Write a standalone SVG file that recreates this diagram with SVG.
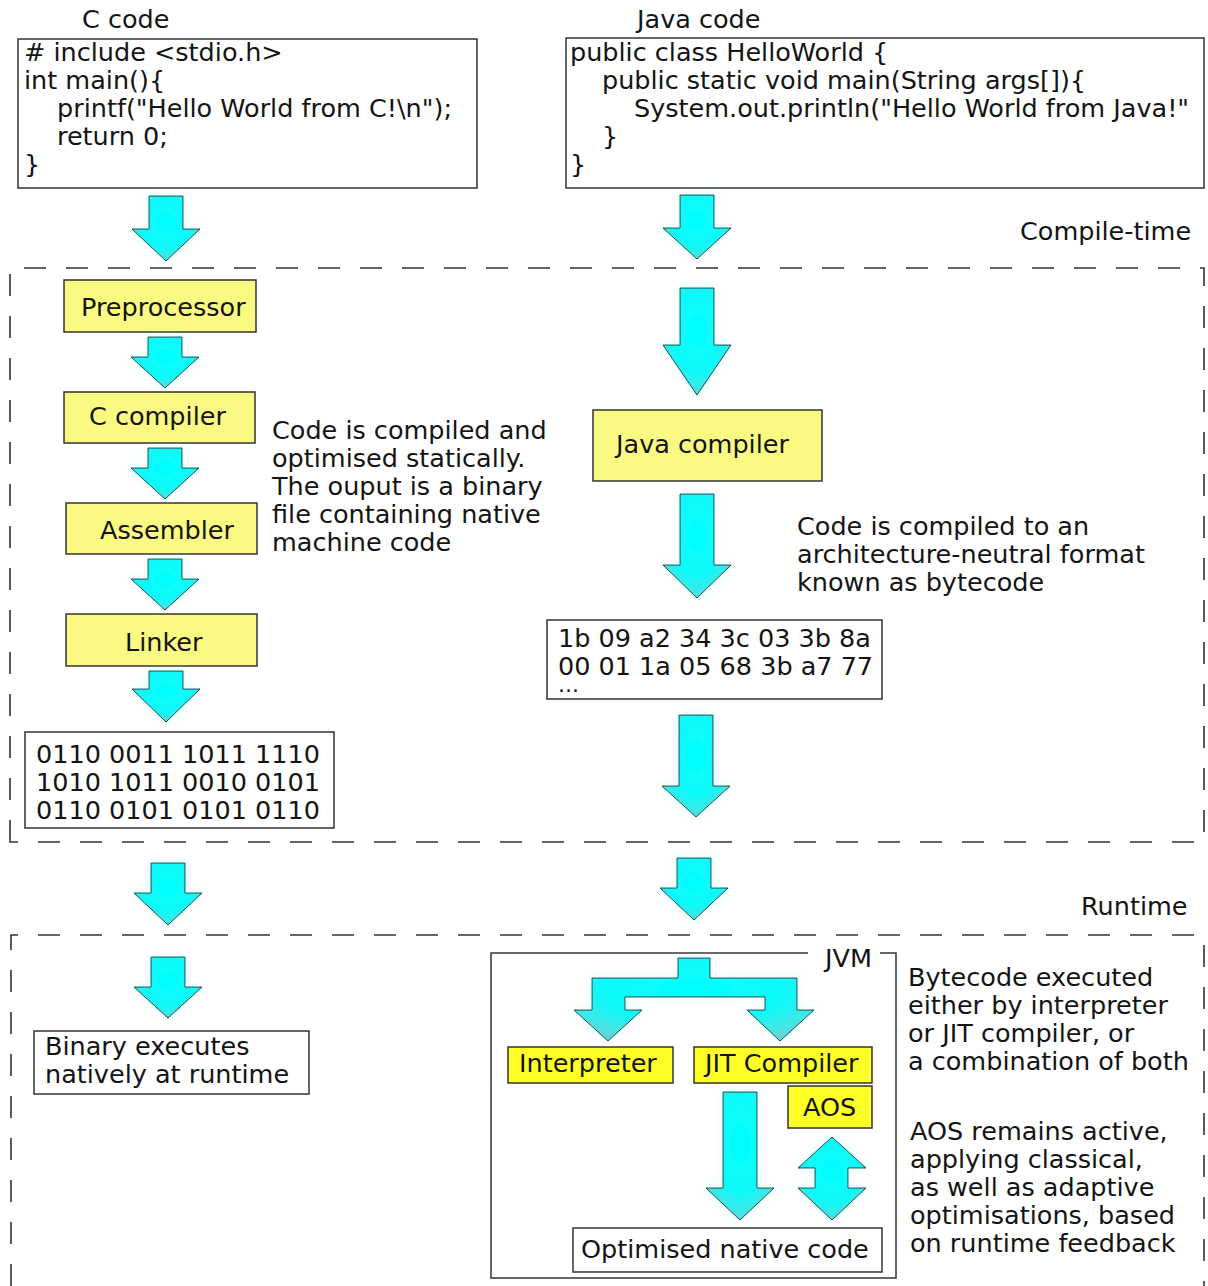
<svg xmlns="http://www.w3.org/2000/svg" width="1208" height="1286" viewBox="0 0 1208 1286">
  <style>
    .t { font-family: "DejaVu Sans", "Liberation Sans", sans-serif; font-size: 25.5px; fill: #141414; }
    .dots { font-family: "DejaVu Sans", "Liberation Sans", sans-serif; font-size: 22px; fill: #141414; }
    .box { fill: #ffffff; stroke: #333333; stroke-width: 1.5; }
    .pale { fill: #fafa82; stroke: #333333; stroke-width: 1.5; }
    .bright { fill: #ffff28; stroke: #333333; stroke-width: 1.5; }
    .dash { fill: none; stroke: #333333; stroke-width: 1.6; stroke-dasharray: 22 20; }
    .frame { fill: none; stroke: #333333; stroke-width: 1.5; }
    .arrow { fill: url(#cyan); stroke: #2a3a3a; stroke-width: 1; filter: url(#glow); }
  </style>
  <defs>
    <radialGradient id="cyan" cx="0.5" cy="0.4" r="0.65">
      <stop offset="0" stop-color="#00ffff"/>
      <stop offset="0.6" stop-color="#10f8f8"/>
      <stop offset="1" stop-color="#60dada"/>
    </radialGradient>
    <filter id="glow" x="-30%" y="-30%" width="160%" height="160%">
      <feGaussianBlur in="SourceAlpha" stdDeviation="3" result="b"/>
      <feFlood flood-color="#9ffcfc" flood-opacity="0.6"/>
      <feComposite in2="b" operator="in" result="g"/>
      <feMerge>
        <feMergeNode in="g"/>
        <feMergeNode in="SourceGraphic"/>
      </feMerge>
    </filter>
  </defs>

  <rect width="1208" height="1286" fill="#ffffff"/>

  <!-- stage frames -->
  <g id="stages">
    <path class="dash" d="M10,842 V268 H1204 V842 Z"/>
    <text class="t" x="1020" y="240">Compile-time</text>
    <path class="dash" d="M11,1286 V935 H1204 V1286"/>
    <text class="t" x="1081" y="915">Runtime</text>
  </g>

  <!-- C source -->
  <g id="c-source">
    <text class="t" x="82" y="28">C code</text>
    <rect class="box" x="18" y="39" width="459" height="149"/>
    <text class="t" x="24" y="61"># include &lt;stdio.h&gt;</text>
    <text class="t" x="24" y="89">int main(){</text>
    <text class="t" x="57" y="117">printf("Hello World from C!\n");</text>
    <text class="t" x="57" y="145">return 0;</text>
    <text class="t" x="24" y="173">}</text>
  </g>

  <!-- Java source -->
  <g id="java-source">
    <text class="t" x="637" y="28">Java code</text>
    <rect class="box" x="566" y="38" width="638" height="150"/>
    <text class="t" x="570" y="61">public class HelloWorld {</text>
    <text class="t" x="602" y="89">public static void main(String args[]){</text>
    <text class="t" x="634" y="117">System.out.println("Hello World from Java!"</text>
    <text class="t" x="602" y="145">}</text>
    <text class="t" x="570" y="173">}</text>
  </g>

  <g id="preprocessor">
    <rect class="pale" x="64" y="280" width="192" height="52"/>
    <text class="t" x="81" y="316">Preprocessor</text>
  </g>
  <g id="c-compiler">
    <rect class="pale" x="64" y="392" width="191" height="51"/>
    <text class="t" x="89" y="425">C compiler</text>
  </g>
  <g id="assembler">
    <rect class="pale" x="66" y="503" width="191" height="51"/>
    <text class="t" x="100" y="539">Assembler</text>
  </g>
  <g id="linker">
    <rect class="pale" x="66" y="614" width="191" height="52"/>
    <text class="t" x="125" y="651">Linker</text>
  </g>
  <g id="binary">
    <rect class="box" x="25" y="732" width="309" height="96"/>
    <text class="t" x="36" y="763">0110 0011 1011 1110</text>
    <text class="t" x="36" y="791">1010 1011 0010 0101</text>
    <text class="t" x="36" y="819">0110 0101 0101 0110</text>
  </g>
  <g id="c-note">
    <text class="t" x="272" y="439">Code is compiled and</text>
    <text class="t" x="272" y="467">optimised statically.</text>
    <text class="t" x="272" y="495">The ouput is a binary</text>
    <text class="t" x="272" y="523">file containing native</text>
    <text class="t" x="272" y="551">machine code</text>
  </g>

  <g id="java-compiler">
    <rect class="pale" x="593" y="410" width="229" height="71"/>
    <text class="t" x="616" y="453">Java compiler</text>
  </g>
  <g id="java-note">
    <text class="t" x="797" y="535">Code is compiled to an</text>
    <text class="t" x="797" y="563">architecture-neutral format</text>
    <text class="t" x="797" y="591">known as bytecode</text>
  </g>
  <g id="bytecode">
    <rect class="box" x="547" y="620" width="335" height="79"/>
    <text class="t" x="558" y="647">1b 09 a2 34 3c 03 3b 8a</text>
    <text class="t" x="558" y="675">00 01 1a 05 68 3b a7 77</text>
    <text class="dots" x="558" y="692">...</text>
  </g>

  <g id="binary-run">
    <rect class="box" x="34" y="1031" width="275" height="63"/>
    <text class="t" x="45" y="1055">Binary executes</text>
    <text class="t" x="45" y="1083">natively at runtime</text>
  </g>

  <g id="jvm">
    <path class="frame" d="M808,953 H491 V1278 H896 V953 H880"/>
    <text class="t" x="825" y="967">JVM</text>
  </g>
  <g id="interpreter">
    <rect class="bright" x="508" y="1047" width="165" height="36"/>
    <text class="t" x="519" y="1072">Interpreter</text>
  </g>
  <g id="jit-compiler">
    <rect class="bright" x="694" y="1047" width="178" height="36"/>
    <text class="t" x="705" y="1072">JIT Compiler</text>
  </g>
  <g id="aos">
    <rect class="bright" x="788" y="1086" width="84" height="42"/>
    <text class="t" x="803" y="1116">AOS</text>
  </g>
  <g id="native-code">
    <rect class="box" x="573" y="1228" width="309" height="44"/>
    <text class="t" x="581" y="1258">Optimised native code</text>
  </g>
  <g id="jvm-note">
    <text class="t" x="908" y="986">Bytecode executed</text>
    <text class="t" x="908" y="1014">either by interpreter</text>
    <text class="t" x="908" y="1042">or JIT compiler, or</text>
    <text class="t" x="908" y="1070">a combination of both</text>
    <text class="t" x="910" y="1140">AOS remains active,</text>
    <text class="t" x="910" y="1168">applying classical,</text>
    <text class="t" x="910" y="1196">as well as adaptive</text>
    <text class="t" x="910" y="1224">optimisations, based</text>
    <text class="t" x="910" y="1252">on runtime feedback</text>
  </g>

  <!-- block arrows -->
  <g id="connectors">
    <path class="arrow" d="M149,196 H183 V229 H200 L166,261 L132,229 H149 Z"/>
    <path class="arrow" d="M148,337 H182 V357 H199 L165,388 L131,357 H148 Z"/>
    <path class="arrow" d="M148,448 H182 V468 H199 L165,499 L131,468 H148 Z"/>
    <path class="arrow" d="M148,559 H182 V579 H199 L165,610 L131,579 H148 Z"/>
    <path class="arrow" d="M149,671 H183 V689 H200 L166,722 L132,689 H149 Z"/>
    <path class="arrow" d="M151,863 H185 V893 H202 L168,925 L134,893 H151 Z"/>
    <path class="arrow" d="M151,957 H185 V987 H202 L168,1018 L134,987 H151 Z"/>

    <path class="arrow" d="M680,195 H714 V228 H731 L697,259 L663,228 H680 Z"/>
    <path class="arrow" d="M680,288 H714 V345 H731 L697,395 L663,345 H680 Z"/>
    <path class="arrow" d="M680,494 H714 V565 H731 L697,598 L663,565 H680 Z"/>
    <path class="arrow" d="M679,715 H713 V786 H730 L696,817 L662,786 H679 Z"/>
    <path class="arrow" d="M677,858 H711 V888 H728 L694,920 L660,888 H677 Z"/>

    <path class="arrow" d="M678,958 H710 V978 H797 V1010 H814 L780,1041 L747,1010 H765 V997 H625 V1010 H642 L608,1041 L574,1010 H592 V978 H678 Z"/>
    <path class="arrow" d="M723,1092 H757 V1188 H774 L740,1220 L706,1188 H723 Z"/>
    <path class="arrow" d="M832,1137 L866,1168 H848 V1188 H866 L832,1220 L798,1188 H815 V1168 H798 Z"/>
  </g>
</svg>
